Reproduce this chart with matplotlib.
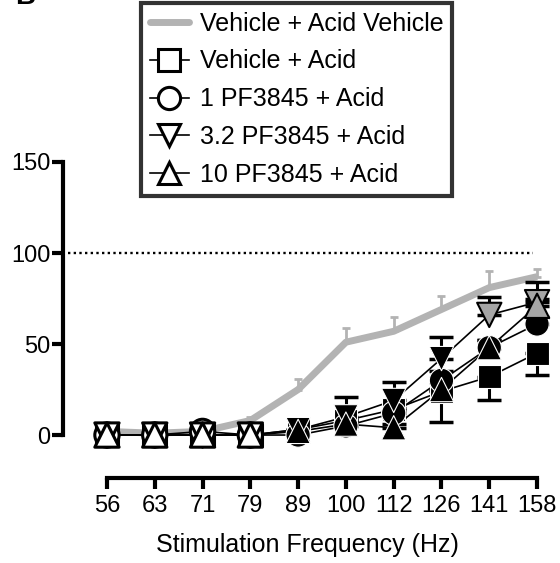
import numpy as np
import matplotlib.pyplot as plt
from matplotlib.lines import Line2D

plt.rcParams['font.family'] = ['Liberation Sans', 'DejaVu Sans']

freqs = ['56', '63', '71', '79', '89', '100', '112', '126', '141', '158']

# Vehicle + Acid Vehicle (grey line, SEM up)
veh_mean = [2, 1, 2, 8, 25, 51, 57, 69, 81, 87]
veh_err = [1, 1, 1, 2, 6, 8, 8, 7.5, 9, 4]

# drug groups; fill: 0 open, 1 filled black, 2 filled grey
sq_mean = [0, 0, 0, 0, 3, 8, 14, 24, 32, 45]
sq_err = [0, 0, 0, 0, 0, 3, 4, 17, 13, 12]
sq_fill = [0, 0, 0, 0, 1, 1, 1, 1, 1, 1]

ci_mean = [0, 0, 2, 0, 0, 5, 12, 30, 48, 61]
ci_err = [0, 0, 0, 0, 0, 2, 3, 5, 4, 4]
ci_fill = [0, 0, 0, 0, 1, 1, 1, 1, 1, 1]

dt_mean = [0, 0, 0, 0, 3, 10, 19, 42, 66, 73]
dt_err = [0, 0, 0, 0, 0, 11, 10, 12, 10, 11]
dt_fill = [0, 0, 0, 0, 1, 1, 1, 1, 2, 2]

ut_mean = [0, 0, 0, 0, 2, 6, 4, 25, 48, 71]
ut_err = [0, 0, 0, 0, 0, 2, 2, 4, 4, 4]
ut_fill = [0, 0, 0, 0, 1, 1, 1, 1, 1, 2]

labels = ['Vehicle + Acid Vehicle', 'Vehicle + Acid', '1 PF3845 + Acid',
          '3.2 PF3845 + Acid', '10 PF3845 + Acid']

grey = '#b3b3b3'
x = np.arange(len(freqs))

fig = plt.figure(figsize=(5.6, 5.63), dpi=100)
ax = fig.add_axes([63/560., 1-449.6/563., 488.4/560., 287.6/563.])

ax.hlines(100, -0.82, 8.92, colors='k', linestyles=(0, (1, 1.4)), lw=1.7, zorder=1)

# grey vehicle curve
ax.errorbar(x, veh_mean, yerr=[np.zeros(len(x)), veh_err], fmt='none', ecolor=grey,
            elinewidth=2, capsize=3.2, capthick=2, zorder=2)
ax.plot(x, veh_mean, color=grey, lw=5, solid_capstyle='butt', zorder=2)

face_map = {0: 'white', 1: 'black', 2: '#a6a6a6'}
edge_map = {0: 'black', 1: 'white', 2: 'black'}
lw_map = {0: 2.2, 1: 0.8, 2: 1.5}

series = [
    (sq_mean, sq_err, sq_fill, 's', 'down', 16.5),
    (ci_mean, ci_err, ci_fill, 'o', 'up', 17.5),
    (dt_mean, dt_err, dt_fill, 'v', 'up', 17.5),
    (ut_mean, ut_err, ut_fill, '^', 'up', 17.5),
]

for k, (m, e, f, mk, side, ms) in enumerate(series):
    e = np.array(e, dtype=float)
    z = np.zeros(len(e))
    yerr = [e, z] if side == 'down' else [z, e]
    ax.errorbar(x, m, yerr=yerr, fmt='none', ecolor='k', elinewidth=2.2,
                capsize=8.5, capthick=2.5, zorder=3)
    ax.plot(x, m, color='k', lw=1.2, zorder=3)
    ax.scatter(x, m, s=ms**2, marker=mk,
               facecolors=[face_map[v] for v in f],
               edgecolors=[edge_map[v] for v in f],
               linewidths=[lw_map[v] for v in f],
               zorder=5+k, clip_on=False)

ax.set_xlim(-0.92, 9.3)
ax.set_ylim(-8, 150)

for s in ['top', 'right']:
    ax.spines[s].set_visible(False)
ax.spines['left'].set_bounds(0, 150)
ax.spines['left'].set_linewidth(3)
ax.spines['bottom'].set_bounds(0, 9)
ax.spines['bottom'].set_linewidth(3)
ax.spines['bottom'].set_position(('outward', 20.4))

ax.set_yticks([0, 50, 100, 150])
ax.set_xticks(x)
ax.set_xticklabels(freqs)
ax.tick_params(axis='both', direction='out', length=8, width=3, labelsize=17)
ax.tick_params(axis='y', pad=1)
ax.tick_params(axis='x', pad=4)
ax.set_xlabel('Stimulation Frequency (Hz)', fontsize=18, labelpad=12)

handles = [Line2D([], [], color=grey, lw=5, solid_capstyle='round')]
for mk in ['s', 'o', 'v', '^']:
    handles.append(Line2D([], [], color='k', lw=1.2, marker=mk, ms=16,
                          mfc='white', mec='k', mew=2.2))
leg = fig.legend(handles, labels, loc='upper left', bbox_to_anchor=(141/560., 1-3/563.),
                 fontsize=18, frameon=True, fancybox=False, edgecolor='k',
                 handlelength=1.55, handletextpad=0.45, labelspacing=0.55,
                 borderpad=0.35, borderaxespad=0)
leg.get_frame().set_linewidth(3)

# panel letter, cut off at the top edge as in the source figure
fig.text(25/560., 1-3.5/563., 'B', fontsize=20, fontweight='bold', ha='center', va='baseline')

fig.savefig('out.png', dpi=100)
